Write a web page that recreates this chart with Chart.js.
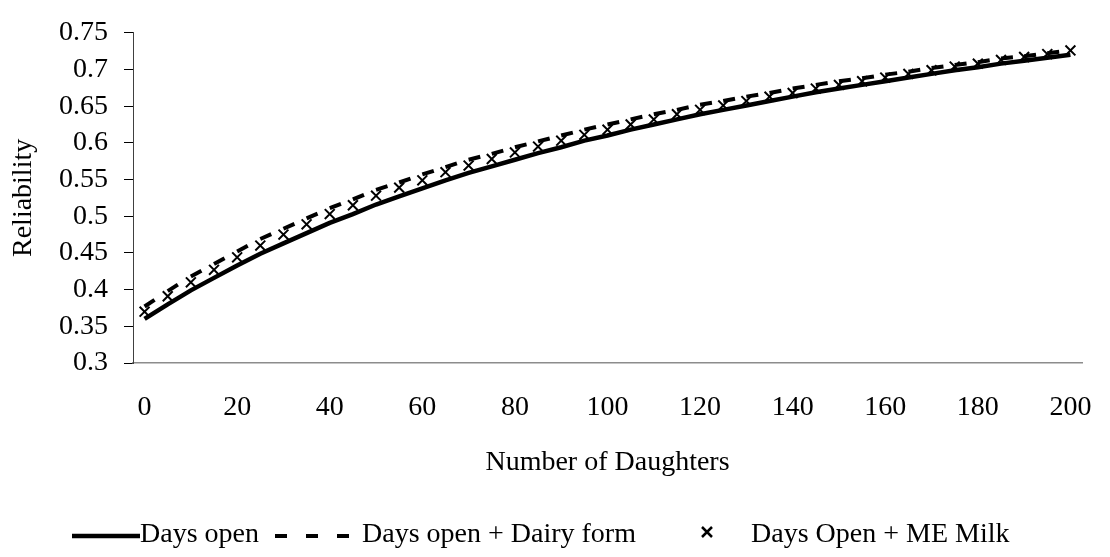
<!DOCTYPE html>
<html>
<head>
<meta charset="utf-8">
<script src="https://cdn.jsdelivr.net/npm/chart.js@4.4.1/dist/chart.umd.min.js"></script>
<style>
  html, body { margin: 0; padding: 0; background: #fff; }
  #wrap { position: relative; width: 1110px; height: 557px; }
</style>
</head>
<body>
<div id="wrap"><canvas id="reliability-chart"></canvas></div>
<script>
// number of daughters (categories)
const daughters = [0, 5, 10, 15, 20, 25, 30, 35, 40, 45, 50, 55, 60, 65, 70, 75, 80, 85, 90, 95,
  100, 105, 110, 115, 120, 125, 130, 135, 140, 145, 150, 155, 160, 165, 170, 175, 180, 185, 190, 195, 200];

const seriesNames = ['Days open', 'Days open + Dairy form', 'Days Open + ME Milk'];

const daysOpen = [0.360, 0.380, 0.399, 0.416, 0.433, 0.449, 0.463, 0.477, 0.491, 0.503,
  0.516, 0.527, 0.538, 0.549, 0.559, 0.568, 0.577, 0.586, 0.594, 0.603,
  0.610, 0.618, 0.625, 0.632, 0.639, 0.645, 0.651, 0.657, 0.663, 0.669,
  0.674, 0.679, 0.684, 0.689, 0.694, 0.699, 0.703, 0.708, 0.712, 0.716, 0.720];

const daysOpenDairyForm = [0.377, 0.398, 0.418, 0.435, 0.452, 0.469, 0.483, 0.497, 0.511, 0.523,
  0.536, 0.546, 0.557, 0.567, 0.577, 0.585, 0.594, 0.602, 0.610, 0.618,
  0.625, 0.632, 0.639, 0.645, 0.652, 0.657, 0.663, 0.668, 0.674, 0.679,
  0.684, 0.688, 0.693, 0.697, 0.702, 0.706, 0.710, 0.715, 0.718, 0.722, 0.726];

const daysOpenMEMilk = [0.370, 0.391, 0.410, 0.427, 0.444, 0.460, 0.475, 0.489, 0.503, 0.515,
  0.528, 0.539, 0.549, 0.560, 0.569, 0.578, 0.587, 0.595, 0.603, 0.611,
  0.618, 0.625, 0.632, 0.639, 0.645, 0.651, 0.657, 0.663, 0.668, 0.674,
  0.679, 0.684, 0.689, 0.694, 0.699, 0.704, 0.708, 0.713, 0.717, 0.721, 0.726];

const xTickLabels = ['0', '20', '40', '60', '80', '100', '120', '140', '160', '180', '200'];
const yTicks = [0.3, 0.35, 0.4, 0.45, 0.5, 0.55, 0.6, 0.65, 0.7, 0.75];

const FONT = '"Liberation Serif", "Times New Roman", serif';

// legend drawn under the axis title, Excel style
const bottomLegend = {
  id: 'bottomLegend',
  afterDraw(chart) {
    const ctx = chart.ctx;
    const y = 535;
    ctx.save();
    ctx.font = '28px ' + FONT;
    ctx.fillStyle = '#000';
    ctx.strokeStyle = '#000';
    ctx.textBaseline = 'middle';
    ctx.textAlign = 'left';

    ctx.lineWidth = 4.5;
    ctx.beginPath();
    ctx.moveTo(72, y + 1);
    ctx.lineTo(140, y + 1);
    ctx.stroke();
    ctx.fillText(seriesNames[0], 140, y);

    ctx.lineWidth = 4;
    ctx.setLineDash([12, 19]);
    ctx.beginPath();
    ctx.moveTo(275, y + 1);
    ctx.lineTo(349, y + 1);
    ctx.stroke();
    ctx.setLineDash([]);
    ctx.fillText(seriesNames[1], 362, y);

    ctx.lineWidth = 2.5;
    ctx.beginPath();
    ctx.moveTo(702, y - 8);
    ctx.lineTo(712, y + 2);
    ctx.moveTo(712, y - 8);
    ctx.lineTo(702, y + 2);
    ctx.stroke();
    ctx.fillText(seriesNames[2], 751, y);
    ctx.restore();
  }
};

const config = {
  type: 'line',
  data: {
    labels: daughters,
    datasets: [
      {
        label: seriesNames[1],
        data: daysOpenDairyForm,
        borderColor: '#000',
        borderWidth: 4,
        borderDash: [12, 100],
        borderCapStyle: 'butt',
        pointRadius: 0,
        order: 0,
        // restart the dash on every segment, like the original
        segment: {
          borderDashOffset: c => (c.p0DataIndex % 2) * 0.01
        }
      },
      {
        label: seriesNames[2],
        data: daysOpenMEMilk,
        showLine: false,
        pointStyle: 'crossRot',
        pointRadius: 7,
        pointBorderWidth: 2,
        pointBorderColor: '#000',
        borderColor: '#000',
        order: 1
      },
      {
        label: seriesNames[0],
        data: daysOpen,
        borderColor: '#000',
        borderWidth: 4.5,
        pointRadius: 0,
        order: 2
      }
    ]
  },
  options: {
    responsive: true,
    maintainAspectRatio: false,
    animation: false,
    layout: { padding: { left: 0, right: 28, top: 23, bottom: 78 } },
    plugins: {
      legend: { display: false },
      tooltip: { enabled: false }
    },
    scales: {
      x: {
        type: 'category',
        offset: true,
        grid: { display: false, drawTicks: false },
        border: { display: true, color: '#8c8c8c', width: 1.5 },
        ticks: {
          autoSkip: false,
          maxRotation: 0,
          padding: 28,
          color: '#000',
          font: { family: FONT, size: 28 },
          callback: function (value, index) {
            const lbl = String(daughters[index]);
            return xTickLabels.includes(lbl) ? lbl : '';
          }
        },
        title: {
          display: true,
          text: 'Number of Daughters',
          color: '#000',
          font: { family: FONT, size: 28 },
          padding: { top: 0, bottom: 0 }
        },
        afterFit: s => {
          s.height = 116;
          s.paddingLeft = 0;
          s.paddingRight = 0;
        }
      },
      y: {
        min: 0.3,
        max: 0.75,
        grid: { drawOnChartArea: false, drawTicks: true, tickLength: 9, color: '#000' },
        border: { display: true, color: '#404040', width: 1 },
        afterBuildTicks: s => { s.ticks = yTicks.map(v => ({ value: v })); },
        ticks: {
          padding: 16,
          color: '#000',
          font: { family: FONT, size: 28 },
          callback: v => String(v)
        },
        title: {
          display: true,
          text: 'Reliability',
          color: '#000',
          font: { family: FONT, size: 28 },
          padding: { top: 7, bottom: 0 }
        },
        afterFit: s => { s.width = 133; }
      }
    }
  },
  plugins: [bottomLegend]
};

const ctx = document.getElementById('reliability-chart').getContext('2d');
window.reliabilityChart = new Chart(ctx, config);
</script>
</body>
</html>
